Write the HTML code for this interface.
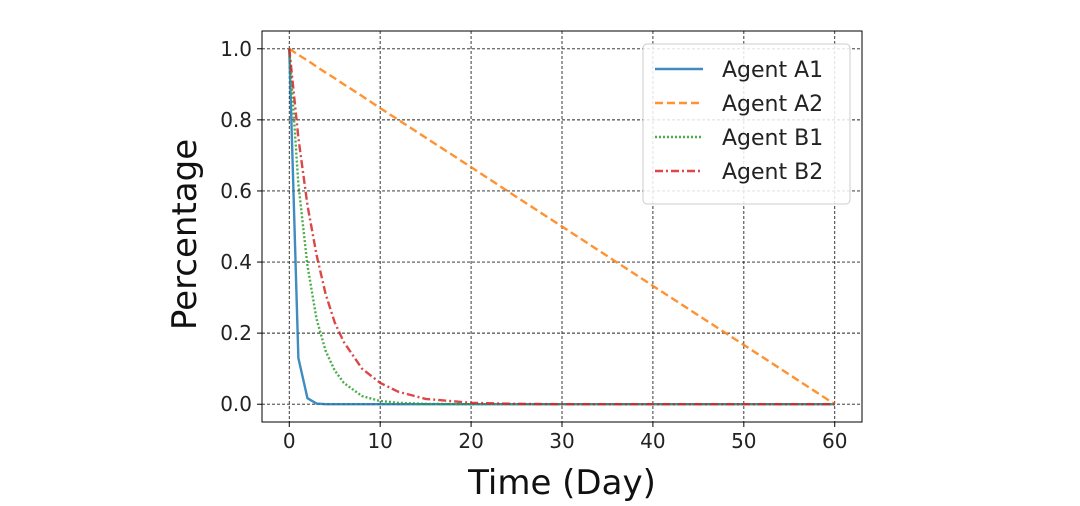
<!DOCTYPE html>
<html><head><meta charset="utf-8"><style>
body{margin:0;background:#fff;}
svg{display:block;font-family:"DejaVu Sans","Liberation Sans",sans-serif;}
</style></head><body>
<svg id="chart" width="1080" height="506"></svg>
<script>
const days=[0,1,2,3,4,5,6,8,10,12,15,20,25,30,40,50,60];
const agentA1=[1,0.13,0.017,0.002,0,0,0,0,0,0,0,0,0,0,0,0,0];
const agentA2=[1,0.983,0.967,0.95,0.933,0.917,0.9,0.867,0.833,0.8,0.75,0.667,0.583,0.5,0.333,0.167,0];
const agentB1=[1,0.62,0.39,0.24,0.15,0.095,0.06,0.023,0.009,0.004,0.001,0,0,0,0,0,0];
const agentB2=[1,0.75,0.56,0.42,0.31,0.23,0.175,0.1,0.06,0.035,0.015,0.004,0.001,0,0,0,0];
const xTicks=[0,10,20,30,40,50,60];
const yTicks=[0,0.2,0.4,0.6,0.8,1.0];
const seriesNames=["Agent A1","Agent A2","Agent B1","Agent B2"];
const NS="http://www.w3.org/2000/svg";
const svg=document.getElementById('chart');
const L=262,R=862,T=31,B=422;
const X=v=>L+(v+3)/66*(R-L);
const Y=v=>B-(v+0.05)/1.1*(B-T);
function el(t,a,p){const e=document.createElementNS(NS,t);for(const k in a)e.setAttribute(k,a[k]);(p||svg).appendChild(e);return e;}
xTicks.forEach(v=>{
 const g=el('line',{x1:X(v),x2:X(v),y1:T,y2:B,stroke:'#222','stroke-width':0.9,'stroke-dasharray':'3,2'});
 
 
 el('line',{x1:X(v),x2:X(v),y1:B,y2:B+5,stroke:'#000','stroke-width':1});
 const t=el('text',{x:X(v),y:B+26,'text-anchor':'middle','font-size':20,fill:'#222'});t.textContent=v;
 
 
});
yTicks.forEach(v=>{
 const g=el('line',{x1:L,x2:R,y1:Y(v),y2:Y(v),stroke:'#222','stroke-width':0.9,'stroke-dasharray':'3,2'});
 
 
 el('line',{x1:L-5,x2:L,y1:Y(v),y2:Y(v),stroke:'#000','stroke-width':1});
 const t=el('text',{x:L-10,y:Y(v)+7,'text-anchor':'end','font-size':20,fill:'#222'});t.textContent=v.toFixed(1);
 
 
});
const styles=[
 {c:'#1f77b4',d:''},{c:'#ff7f0e',d:'8,4'},{c:'#2ca02c',d:'2,2'},{c:'#d62728',d:'8,3,2,3'}];
const data=[agentA1,agentA2,agentB1,agentB2];
data.forEach((s,i)=>{
 const p=el('polyline',{points:days.map((d,j)=>X(d)+','+Y(s[j])).join(' '),fill:'none',stroke:styles[i].c,'stroke-width':2.4,'stroke-opacity':0.85,'stroke-dasharray':styles[i].d});
 
 
});
const fr=el('rect',{x:L,y:T,width:R-L,height:B-T,fill:'none',stroke:'#000','stroke-width':1});


const lg=el('rect',{x:643,y:44,width:207,height:160,rx:4,fill:'#fff','fill-opacity':0.85,stroke:'#ccc'});


seriesNames.forEach((n,i)=>{
 const y=69+i*34;
 const l=el('line',{x1:655,x2:703,y1:y,y2:y,stroke:styles[i].c,'stroke-width':2.4,'stroke-opacity':0.85,'stroke-dasharray':styles[i].d});
 
 
 const t=el('text',{x:722,y:y+8,'font-size':22,fill:'#222'});t.textContent=n;
 
 
});
const xt=el('text',{x:(L+R)/2,y:494,'text-anchor':'middle','font-size':34,fill:'#111'});xt.textContent='Time (Day)';


const yt=el('text',{x:0,y:0,'text-anchor':'middle','font-size':34,fill:'#111',transform:'translate(196,'+((T+B)/2+8)+') rotate(-90)'});yt.textContent='Percentage';


</script>
</body></html>
